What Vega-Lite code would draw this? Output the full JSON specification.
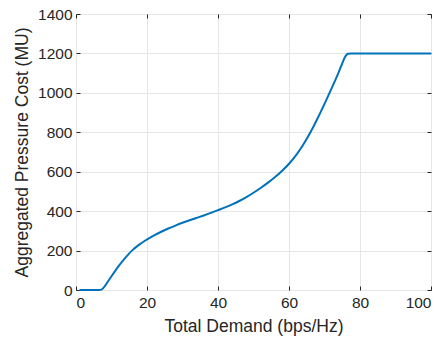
{
  "$schema": "https://vega.github.io/schema/vega-lite/v6.json",
  "width": 355,
  "height": 276,
  "autosize": {"type": "none"},
  "padding": {"left": 76, "top": 14, "right": 17, "bottom": 47},
  "background": "white",
  "config": {
    "font": "Liberation Sans",
    "view": {"stroke": "#262626", "strokeWidth": 1},
    "axis": {
      "labelFont": "Liberation Sans",
      "titleFont": "Liberation Sans",
      "labelColor": "#262626",
      "titleColor": "#262626",
      "titleFontWeight": "normal",
      "domainColor": "#262626",
      "tickColor": "#262626",
      "gridColor": "#e6e6e6",
      "gridWidth": 1
    }
  },
  "data": {
    "values": [
      {"x": 1, "y": 0}, {"x": 4, "y": 0}, {"x": 6.8, "y": 0}, {"x": 7.2, "y": 0}, {"x": 8, "y": 16}, {"x": 9, "y": 43},
      {"x": 10, "y": 70}, {"x": 11, "y": 96}, {"x": 12, "y": 121}, {"x": 13, "y": 144},
      {"x": 14, "y": 166}, {"x": 15, "y": 186}, {"x": 16, "y": 204}, {"x": 17, "y": 219},
      {"x": 18, "y": 233}, {"x": 19, "y": 245}, {"x": 20, "y": 256}, {"x": 22, "y": 277},
      {"x": 24, "y": 296}, {"x": 26, "y": 312}, {"x": 28, "y": 327}, {"x": 30, "y": 341},
      {"x": 32, "y": 354}, {"x": 34, "y": 366}, {"x": 36, "y": 378}, {"x": 38, "y": 391},
      {"x": 40, "y": 405}, {"x": 42, "y": 419}, {"x": 44, "y": 434}, {"x": 46, "y": 451},
      {"x": 48, "y": 471}, {"x": 50, "y": 493}, {"x": 52, "y": 517}, {"x": 54, "y": 543},
      {"x": 56, "y": 571}, {"x": 58, "y": 603}, {"x": 60, "y": 639}, {"x": 62, "y": 683},
      {"x": 64, "y": 735}, {"x": 66, "y": 797}, {"x": 68, "y": 868}, {"x": 70, "y": 944},
      {"x": 72, "y": 1022}, {"x": 74, "y": 1104}, {"x": 75, "y": 1150}, {"x": 76, "y": 1192},
      {"x": 76.6, "y": 1200}, {"x": 77.2, "y": 1200}, {"x": 80, "y": 1200}, {"x": 100, "y": 1200}
    ]
  },
  "resolve": {"axis": {"x": "independent", "y": "independent"}},
  "layer": [
    {
      "mark": {"type": "line", "color": "#0072BD", "strokeWidth": 2, "interpolate": "basis"},
      "encoding": {
        "x": {"field": "x", "type": "quantitative", "scale": {"domain": [0, 100], "nice": false},
          "axis": {"title": "Total Demand (bps/Hz)", "format": "d", "values": [0, 20, 40, 60, 80, 100], "tickSize": -4, "labelFontSize": 15.5, "titleFontSize": 17.5, "labelPadding": 9, "titlePadding": 7, "domain": false}},
        "y": {"field": "y", "type": "quantitative", "scale": {"domain": [0, 1400], "nice": false},
          "axis": {"title": "Aggregated Pressure Cost (MU)", "format": "d", "values": [0, 200, 400, 600, 800, 1000, 1200, 1400], "tickSize": -4, "labelFontSize": 15.5, "titleFontSize": 17.5, "labelPadding": 8, "titlePadding": 6, "domain": false}}
      }
    },
    {
      "mark": {"type": "line", "opacity": 0},
      "encoding": {
        "x": {"field": "x", "type": "quantitative", "scale": {"domain": [0, 100], "nice": false},
          "axis": {"orient": "top", "title": null, "labels": false, "grid": false, "domain": false, "values": [0, 20, 40, 60, 80, 100], "tickSize": -4}},
        "y": {"field": "y", "type": "quantitative", "scale": {"domain": [0, 1400], "nice": false},
          "axis": {"orient": "right", "title": null, "labels": false, "grid": false, "domain": false, "values": [0, 200, 400, 600, 800, 1000, 1200, 1400], "tickSize": -4}}
      }
    }
  ]
}
